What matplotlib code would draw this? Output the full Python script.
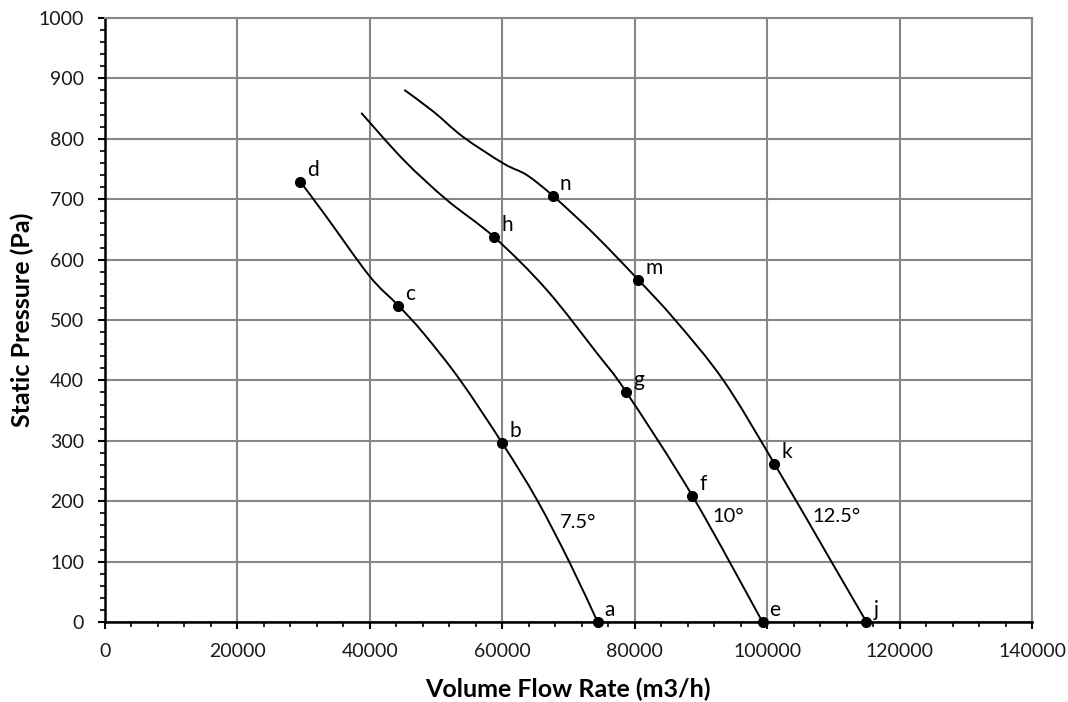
import numpy as np
import matplotlib
matplotlib.use('Agg')
import matplotlib.pyplot as plt
from matplotlib.path import Path
from matplotlib.patches import PathPatch
from matplotlib.ticker import MultipleLocator

plt.rcParams['font.family'] = ['Lato', 'DejaVu Sans']

# fan curves: flow (m3/h), static pressure (Pa)
flow_75 = [29500, 33500, 40000, 44300, 48100, 53600, 60000, 65200, 70100, 74400]
pres_75 = [729, 670, 572, 524, 478, 401, 296, 203, 100, 0]

flow_10 = [38700, 45100, 51600, 58800, 66700, 74300, 78700, 88700, 99300]
pres_10 = [843, 765, 699, 637, 550, 445, 381, 209, 0]

flow_125 = [45200, 49600, 54100, 60200, 63700, 67600, 73800, 80500, 86100, 93400, 101100, 109700, 115000]
pres_125 = [881, 845, 803, 759, 740, 706, 643, 567, 500, 400, 262, 100, 0]

# labelled operating points
pt_names = ['a', 'b', 'c', 'd', 'e', 'f', 'g', 'h', 'j', 'k', 'm', 'n']
pt_flow = [74400, 60000, 44300, 29500, 99300, 88700, 78700, 58800, 115000, 101100, 80500, 67600]
pt_pres = [0, 296, 524, 729, 0, 209, 381, 637, 0, 262, 567, 706]

# blade angle labels
angle_text = ['7.5°', '10°', '12.5°']
angle_flow = [68700, 91800, 106800]
angle_pres = [164, 174, 174]


def smooth_line(ax, xs, ys, **kw):
    # Catmull-Rom through the points, drawn as cubic beziers (like Excel's smoothed line)
    p = np.column_stack([xs, ys]).astype(float)
    p = np.vstack([p[0], p, p[-1]])
    verts = [p[1]]
    codes = [Path.MOVETO]
    for i in range(1, len(p) - 2):
        c1 = p[i] + (p[i+1] - p[i-1]) / 6
        c2 = p[i+1] - (p[i+2] - p[i]) / 6
        verts += [c1, c2, p[i+1]]
        codes += [Path.CURVE4] * 3
    ax.add_patch(PathPatch(Path(verts, codes), fill=False, **kw))


fig = plt.figure(figsize=(10.68, 7.02), dpi=100)
ax = fig.add_axes([105/1068, 1-622/702, 927/1068, 604/702])

for xs, ys in [(flow_75, pres_75), (flow_10, pres_10), (flow_125, pres_125)]:
    smooth_line(ax, xs, ys, edgecolor='black', lw=1.4, zorder=3)

ax.plot(pt_flow, pt_pres, 'o', color='black', ms=7, zorder=4, clip_on=False)
for name, x, y in zip(pt_names, pt_flow, pt_pres):
    ax.annotate(name, (x, y), xytext=(7, 6), textcoords='offset pixels',
                ha='left', va='baseline', fontsize=15)

for t, x, y in zip(angle_text, angle_flow, angle_pres):
    ax.text(x, y, t, ha='left', va='center', fontsize=14.5)

ax.set_xlim(0, 140000)
ax.set_ylim(0, 1000)
ax.xaxis.set_major_locator(MultipleLocator(20000))
ax.xaxis.set_minor_locator(MultipleLocator(4000))
ax.yaxis.set_major_locator(MultipleLocator(100))
ax.yaxis.set_minor_locator(MultipleLocator(20))
ax.grid(True, which='major', color='#878787', lw=1.5)
ax.set_axisbelow(True)

for s in ['top', 'right']:
    ax.spines[s].set_color('#878787')
    ax.spines[s].set_linewidth(1.5)
for s in ['left', 'bottom']:
    ax.spines[s].set_color('black')
    ax.spines[s].set_linewidth(1.8)

ax.tick_params(which='major', direction='out', length=5, width=1.5, labelsize=14, pad=10, colors='black')
ax.tick_params(which='minor', direction='out', length=3.5, width=1.2)
for lab in ax.get_xticklabels() + ax.get_yticklabels():
    lab.set_color('#1a1a1a')

fig.text(568/1068, 1-689/702, 'Volume Flow Rate (m3/h)', ha='center', va='center',
         fontsize=18, fontweight='bold')
fig.text(22/1068, 1-320/702, 'Static Pressure (Pa)', ha='center', va='center',
         fontsize=18, fontweight='bold', rotation=90)

fig.savefig('out.png', dpi=100)
